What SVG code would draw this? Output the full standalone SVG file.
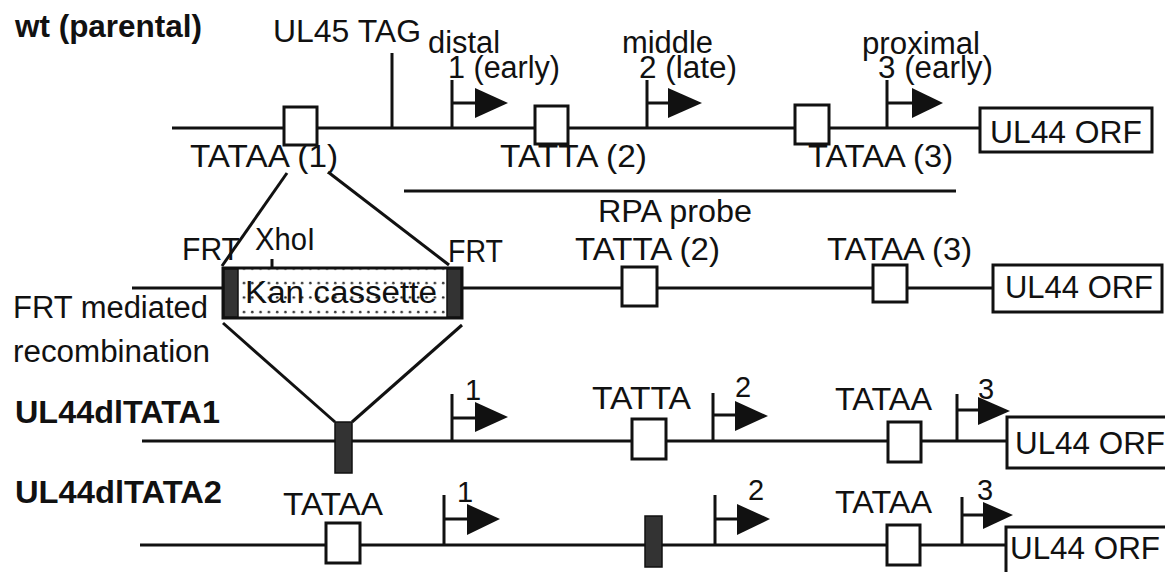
<svg xmlns="http://www.w3.org/2000/svg" width="1165" height="572" viewBox="0 0 1165 572">
<defs>
<style>
.t{font-family:"Liberation Sans",Arial,Helvetica,sans-serif;font-size:31px;fill:#111}
.b{font-family:"Liberation Sans",Arial,Helvetica,sans-serif;font-size:31px;font-weight:bold;fill:#111}
.s{font-family:"Liberation Sans",Arial,Helvetica,sans-serif;font-size:29px;fill:#111}
.ln{stroke:#111;stroke-width:3;fill:none}
.bx{stroke:#111;stroke-width:3;fill:#fff}
.dk{fill:#333;stroke:#111;stroke-width:1.5}
.ar{fill:#111}
</style>
<pattern id="dots" width="8.3" height="14.5" patternUnits="userSpaceOnUse" x="240" y="276">
<circle cx="4" cy="7" r="1.3" fill="#222"/>
</pattern>
</defs>
<rect width="1165" height="572" fill="#fff"/>

<!-- Row 1: wt -->
<g id="row1">
<text class="b" x="15" y="37" textLength="187" lengthAdjust="spacingAndGlyphs">wt (parental)</text>
<line class="ln" x1="172" y1="128" x2="980" y2="128"/>
<rect class="bx" x="284" y="107" width="33" height="38"/>
<text class="t" x="190" y="167" textLength="148" lengthAdjust="spacingAndGlyphs">TATAA (1)</text>
<line class="ln" x1="392" y1="53" x2="392" y2="128"/>
<text class="t" x="273" y="42" textLength="148" lengthAdjust="spacingAndGlyphs">UL45 TAG</text>
<text class="t" x="428" y="53" textLength="72" lengthAdjust="spacingAndGlyphs">distal</text>
<text class="t" x="448" y="78" textLength="112" lengthAdjust="spacingAndGlyphs">1 (early)</text>
<path class="ln" d="M452,128 V80 M452,103 H478"/>
<polygon class="ar" points="475,88 508,103 475,118"/>
<rect class="bx" x="535" y="106" width="33" height="38"/>
<text class="t" x="500" y="167" textLength="147" lengthAdjust="spacingAndGlyphs">TATTA (2)</text>
<text class="t" x="622" y="53" textLength="91" lengthAdjust="spacingAndGlyphs">middle</text>
<text class="t" x="639" y="78" textLength="98" lengthAdjust="spacingAndGlyphs">2 (late)</text>
<path class="ln" d="M647,128 V80 M647,103 H670"/>
<polygon class="ar" points="668,88 702,103 668,118"/>
<rect class="bx" x="795" y="105" width="34" height="39"/>
<text class="t" x="808" y="167" textLength="145" lengthAdjust="spacingAndGlyphs">TATAA (3)</text>
<text class="t" x="862" y="54" textLength="118" lengthAdjust="spacingAndGlyphs">proximal</text>
<text class="t" x="878" y="78" textLength="115" lengthAdjust="spacingAndGlyphs">3 (early)</text>
<path class="ln" d="M887,128 V80 M887,103 H914"/>
<polygon class="ar" points="912,88 943,103 912,118"/>
<rect class="bx" x="980" y="108" width="172" height="44"/>
<text class="t" x="990" y="143" textLength="152" lengthAdjust="spacingAndGlyphs">UL44 ORF</text>
</g>

<!-- RPA probe -->
<g id="probe">
<line class="ln" x1="404" y1="191" x2="956" y2="191"/>
<text class="t" x="598" y="222" textLength="154" lengthAdjust="spacingAndGlyphs">RPA probe</text>
</g>

<!-- Row 2: recombination construct -->
<g id="row2">
<line class="ln" x1="132" y1="288" x2="224" y2="288"/>
<line class="ln" x1="461" y1="288" x2="993" y2="288"/>
<rect x="238" y="268" width="209" height="50" fill="url(#dots)"/>
<rect class="ln" x="223" y="268" width="239" height="50"/>
<rect class="dk" x="224" y="269" width="14" height="48"/>
<rect class="dk" x="447" y="269" width="14" height="48"/>
<line class="ln" x1="272" y1="259" x2="272" y2="268"/>
<text class="t" x="245" y="303" textLength="192" lengthAdjust="spacingAndGlyphs">Kan cassette</text>
<text class="t" x="182" y="260" textLength="58" lengthAdjust="spacingAndGlyphs">FRT</text>
<text class="t" x="255" y="250" textLength="60" lengthAdjust="spacingAndGlyphs">XhoI</text>
<text class="t" x="448" y="262" textLength="55" lengthAdjust="spacingAndGlyphs">FRT</text>
<rect class="bx" x="622" y="267" width="35" height="39"/>
<text class="t" x="575" y="260" textLength="145" lengthAdjust="spacingAndGlyphs">TATTA (2)</text>
<rect class="bx" x="873" y="265" width="34" height="37"/>
<text class="t" x="827" y="260" textLength="145" lengthAdjust="spacingAndGlyphs">TATAA (3)</text>
<rect class="bx" x="993" y="265" width="169" height="47"/>
<text class="t" x="1005" y="298" textLength="148" lengthAdjust="spacingAndGlyphs">UL44 ORF</text>
<text class="t" x="13" y="318" textLength="195" lengthAdjust="spacingAndGlyphs">FRT mediated</text>
<text class="t" x="13" y="362" textLength="197" lengthAdjust="spacingAndGlyphs">recombination</text>
</g>

<!-- Row 3: UL44dlTATA1 -->
<g id="row3">
<text class="b" x="15" y="423" textLength="205" lengthAdjust="spacingAndGlyphs">UL44dlTATA1</text>
<line class="ln" x1="142" y1="441" x2="1007" y2="441"/>
<rect class="dk" x="335" y="422" width="17" height="51"/>
<path class="ln" d="M452,441 V394 M452,418 H477"/>
<polygon class="ar" points="475,402 508,417 475,432"/>
<text class="s" x="465" y="400">1</text>
<rect class="bx" x="632" y="419" width="34" height="40"/>
<text class="t" x="592" y="409" textLength="99" lengthAdjust="spacingAndGlyphs">TATTA</text>
<path class="ln" d="M713,441 V393 M713,415 H737"/>
<polygon class="ar" points="735,401 768,416 735,431"/>
<text class="s" x="735" y="397">2</text>
<rect class="bx" x="888" y="422" width="33" height="40"/>
<text class="t" x="835" y="410" textLength="97" lengthAdjust="spacingAndGlyphs">TATAA</text>
<path class="ln" d="M957,441 V394 M957,410 H980"/>
<polygon class="ar" points="978,397 1010,411 978,425"/>
<text class="s" x="978" y="399">3</text>
<rect class="bx" x="1007" y="417" width="165" height="51"/>
<text class="t" x="1015" y="454" textLength="150" lengthAdjust="spacingAndGlyphs">UL44 ORF</text>
</g>

<!-- Row 4: UL44dlTATA2 -->
<g id="row4">
<text class="b" x="15" y="503" textLength="207" lengthAdjust="spacingAndGlyphs">UL44dlTATA2</text>
<line class="ln" x1="140" y1="545" x2="1006" y2="545"/>
<rect class="bx" x="326" y="523" width="34" height="40"/>
<text class="t" x="283" y="515" textLength="100" lengthAdjust="spacingAndGlyphs">TATAA</text>
<path class="ln" d="M444,545 V495 M444,519 H469"/>
<polygon class="ar" points="467,504 500,519 467,535"/>
<text class="s" x="457" y="502">1</text>
<rect class="dk" x="645" y="516" width="17" height="51"/>
<path class="ln" d="M715,545 V495 M715,519 H739"/>
<polygon class="ar" points="737,504 770,519 737,535"/>
<text class="s" x="748" y="500">2</text>
<rect class="bx" x="887" y="525" width="33" height="40"/>
<text class="t" x="835" y="513" textLength="97" lengthAdjust="spacingAndGlyphs">TATAA</text>
<path class="ln" d="M962,545 V497 M962,515 H985"/>
<polygon class="ar" points="983,502 1013,515 983,529"/>
<text class="s" x="977" y="500">3</text>
<rect class="bx" x="1006" y="527" width="165" height="50"/>
<text class="t" x="1010" y="559" textLength="150" lengthAdjust="spacingAndGlyphs">UL44 ORF</text>
</g>

<!-- connectors: recombination crossover lines -->
<g id="connectors">
<line class="ln" x1="287" y1="173" x2="222" y2="266"/>
<line class="ln" x1="328" y1="172" x2="449" y2="265"/>
<line class="ln" x1="223" y1="323" x2="335" y2="422"/>
<line class="ln" x1="462" y1="325" x2="352" y2="422"/>
</g>
</svg>
